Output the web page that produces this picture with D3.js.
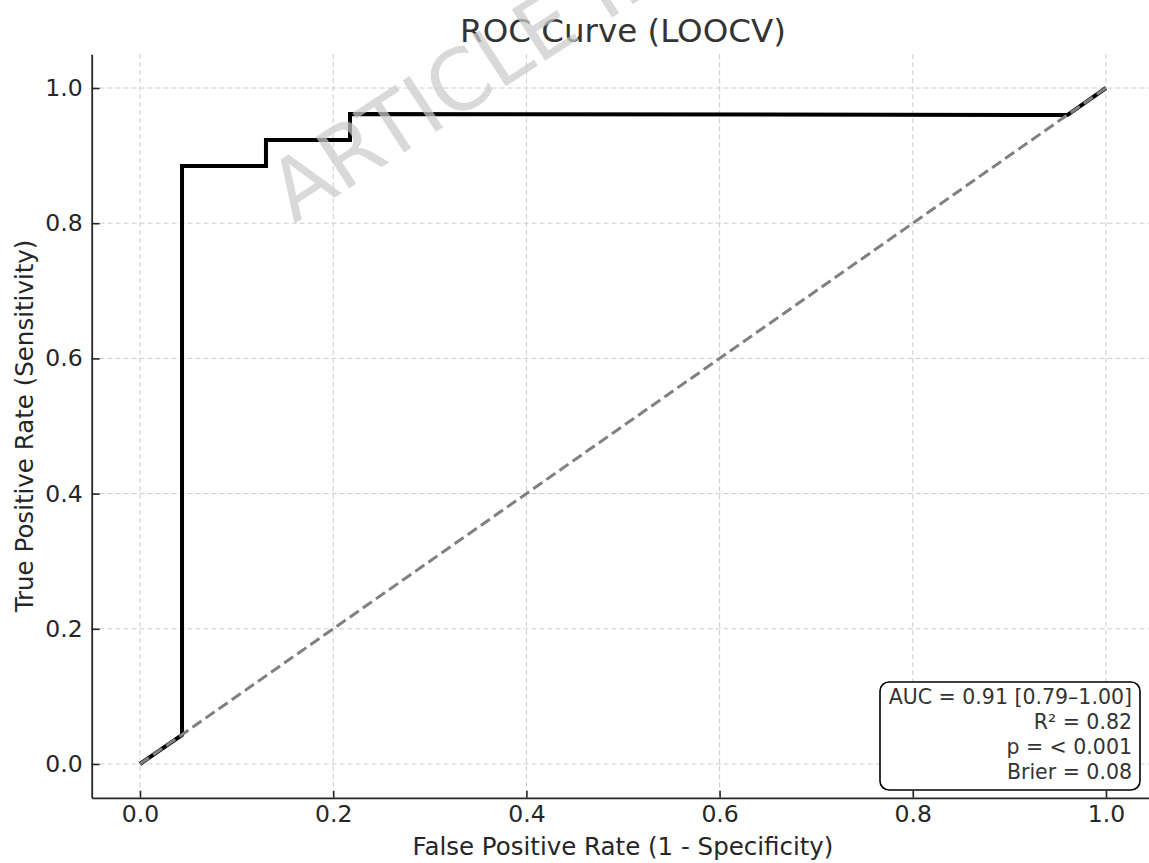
<!DOCTYPE html>
<html>
<head>
<meta charset="utf-8">
<script src="https://cdn.jsdelivr.net/npm/d3@7"></script>
<style>
  body { margin: 0; background: #fff; }
  text { font-family: "DejaVu Sans", sans-serif; }
</style>
</head>
<body>
<div id="chart"></div>
<script>
// ROC points (LOOCV)
var fpr = [0, 0.0435, 0.0435, 0.1304, 0.1304, 0.2174, 0.2174, 0.96, 1.0];
var tpr = [0, 0.043, 0.8846, 0.8846, 0.9231, 0.9231, 0.9615, 0.96, 1.0];
var chance = [0, 1];
var tick_values = [0, 0.2, 0.4, 0.6, 0.8, 1.0];
var stats_lines = ['AUC = 0.91 [0.79\u20131.00]', 'R\u00b2 = 0.82', 'p = < 0.001', 'Brier = 0.08'];

var chart_width = 1149;
var chart_height = 863;
var plot_left = 91.7, plot_right = 1154.3, plot_top = 54.2, plot_bottom = 797.8;

var svg = d3.select('#chart')
  .append('svg')
  .attr('width', chart_width)
  .attr('height', chart_height);

var x_scale = d3.scaleLinear().domain([-0.05, 1.05]).range([plot_left, plot_right]);
var y_scale = d3.scaleLinear().domain([-0.05, 1.05]).range([plot_bottom, plot_top]);

// grid
var grid = svg.append('g')
  .attr('stroke', '#cccccc')
  .attr('stroke-width', 1)
  .attr('stroke-dasharray', '5,3');
grid.selectAll('.gx')
  .data(tick_values)
  .enter()
  .append('line')
  .attr('x1', (d) => x_scale(d)).attr('x2', (d) => x_scale(d))
  .attr('y1', plot_top).attr('y2', plot_bottom);
grid.selectAll('.gy')
  .data(tick_values)
  .enter()
  .append('line')
  .attr('y1', (d) => y_scale(d)).attr('y2', (d) => y_scale(d))
  .attr('x1', plot_left).attr('x2', plot_right);

// ROC curve
var roc_points = fpr.map((d, i) => [d, tpr[i]]);
svg.append('path')
  .datum(roc_points)
  .attr('fill', 'none')
  .attr('stroke', '#000')
  .attr('stroke-width', 4)
  .attr('stroke-linejoin', 'miter')
  .attr('d', d3.line().x((d) => x_scale(d[0])).y((d) => y_scale(d[1])));

// chance diagonal
svg.append('path')
  .datum(chance.map((d) => [d, d]))
  .attr('fill', 'none')
  .attr('stroke', '#808080')
  .attr('stroke-width', 3)
  .attr('stroke-dasharray', '11,5')
  .attr('d', d3.line().x((d) => x_scale(d[0])).y((d) => y_scale(d[1])));

// axes (ticks pointing inward)
var x_axis = d3.axisBottom(x_scale)
  .tickValues(tick_values)
  .tickFormat(d3.format('.1f'))
  .tickSizeInner(-7)
  .tickSizeOuter(0)
  .tickPadding(8);
var y_axis = d3.axisLeft(y_scale)
  .tickValues(tick_values)
  .tickFormat(d3.format('.1f'))
  .tickSizeInner(-8)
  .tickSizeOuter(0)
  .tickPadding(9);

var gx = svg.append('g')
  .attr('transform', 'translate(0,' + plot_bottom + ')')
  .call(x_axis);
var gy = svg.append('g')
  .attr('transform', 'translate(' + plot_left + ',0)')
  .call(y_axis);

[gx, gy].forEach(function(g) {
  g.select('.domain').attr('stroke', '#262626').attr('stroke-width', 1.8);
  g.selectAll('.tick line').attr('stroke', '#262626').attr('stroke-width', 1.6);
  g.selectAll('.tick text')
    .attr('fill', '#262626')
    .style('font-size', '23.5px')
    .style('font-family', '"DejaVu Sans", sans-serif');
});

// axis labels
svg.append('text')
  .text('False Positive Rate (1 - Specificity)')
  .attr('x', (plot_left + plot_right) / 2)
  .attr('y', 855)
  .attr('text-anchor', 'middle')
  .attr('fill', '#262626')
  .style('font-size', '24.5px');

svg.append('text')
  .text('True Positive Rate (Sensitivity)')
  .attr('transform', 'translate(33,' + (plot_top + plot_bottom) / 2 + ') rotate(-90)')
  .attr('text-anchor', 'middle')
  .attr('fill', '#262626')
  .style('font-size', '24.5px');

// title
svg.append('text')
  .text('ROC Curve (LOOCV)')
  .attr('x', (plot_left + plot_right) / 2)
  .attr('y', 42)
  .attr('text-anchor', 'middle')
  .attr('fill', '#333333')
  .style('font-size', '32.5px');

// stats box
var box = svg.append('g');
box.append('rect')
  .attr('x', 880).attr('y', 682)
  .attr('width', 260).attr('height', 108)
  .attr('rx', 9).attr('ry', 9)
  .attr('fill', '#fff')
  .attr('stroke', '#000')
  .attr('stroke-width', 1.6);
box.selectAll('text')
  .data(stats_lines)
  .enter()
  .append('text')
  .text((d) => d)
  .attr('x', 1132)
  .attr('y', (d, i) => 704 + i * 25)
  .attr('text-anchor', 'end')
  .attr('fill', '#333333')
  .style('font-size', '20.5px');

// watermark
svg.append('text')
  .text('ARTICLE IN PRESS')
  .attr('transform', 'translate(294,224) rotate(-33)')
  .attr('fill', '#cbcbcb')
  .attr('opacity', 0.72)
  .style('font-size', '84px');
</script>
</body>
</html>
